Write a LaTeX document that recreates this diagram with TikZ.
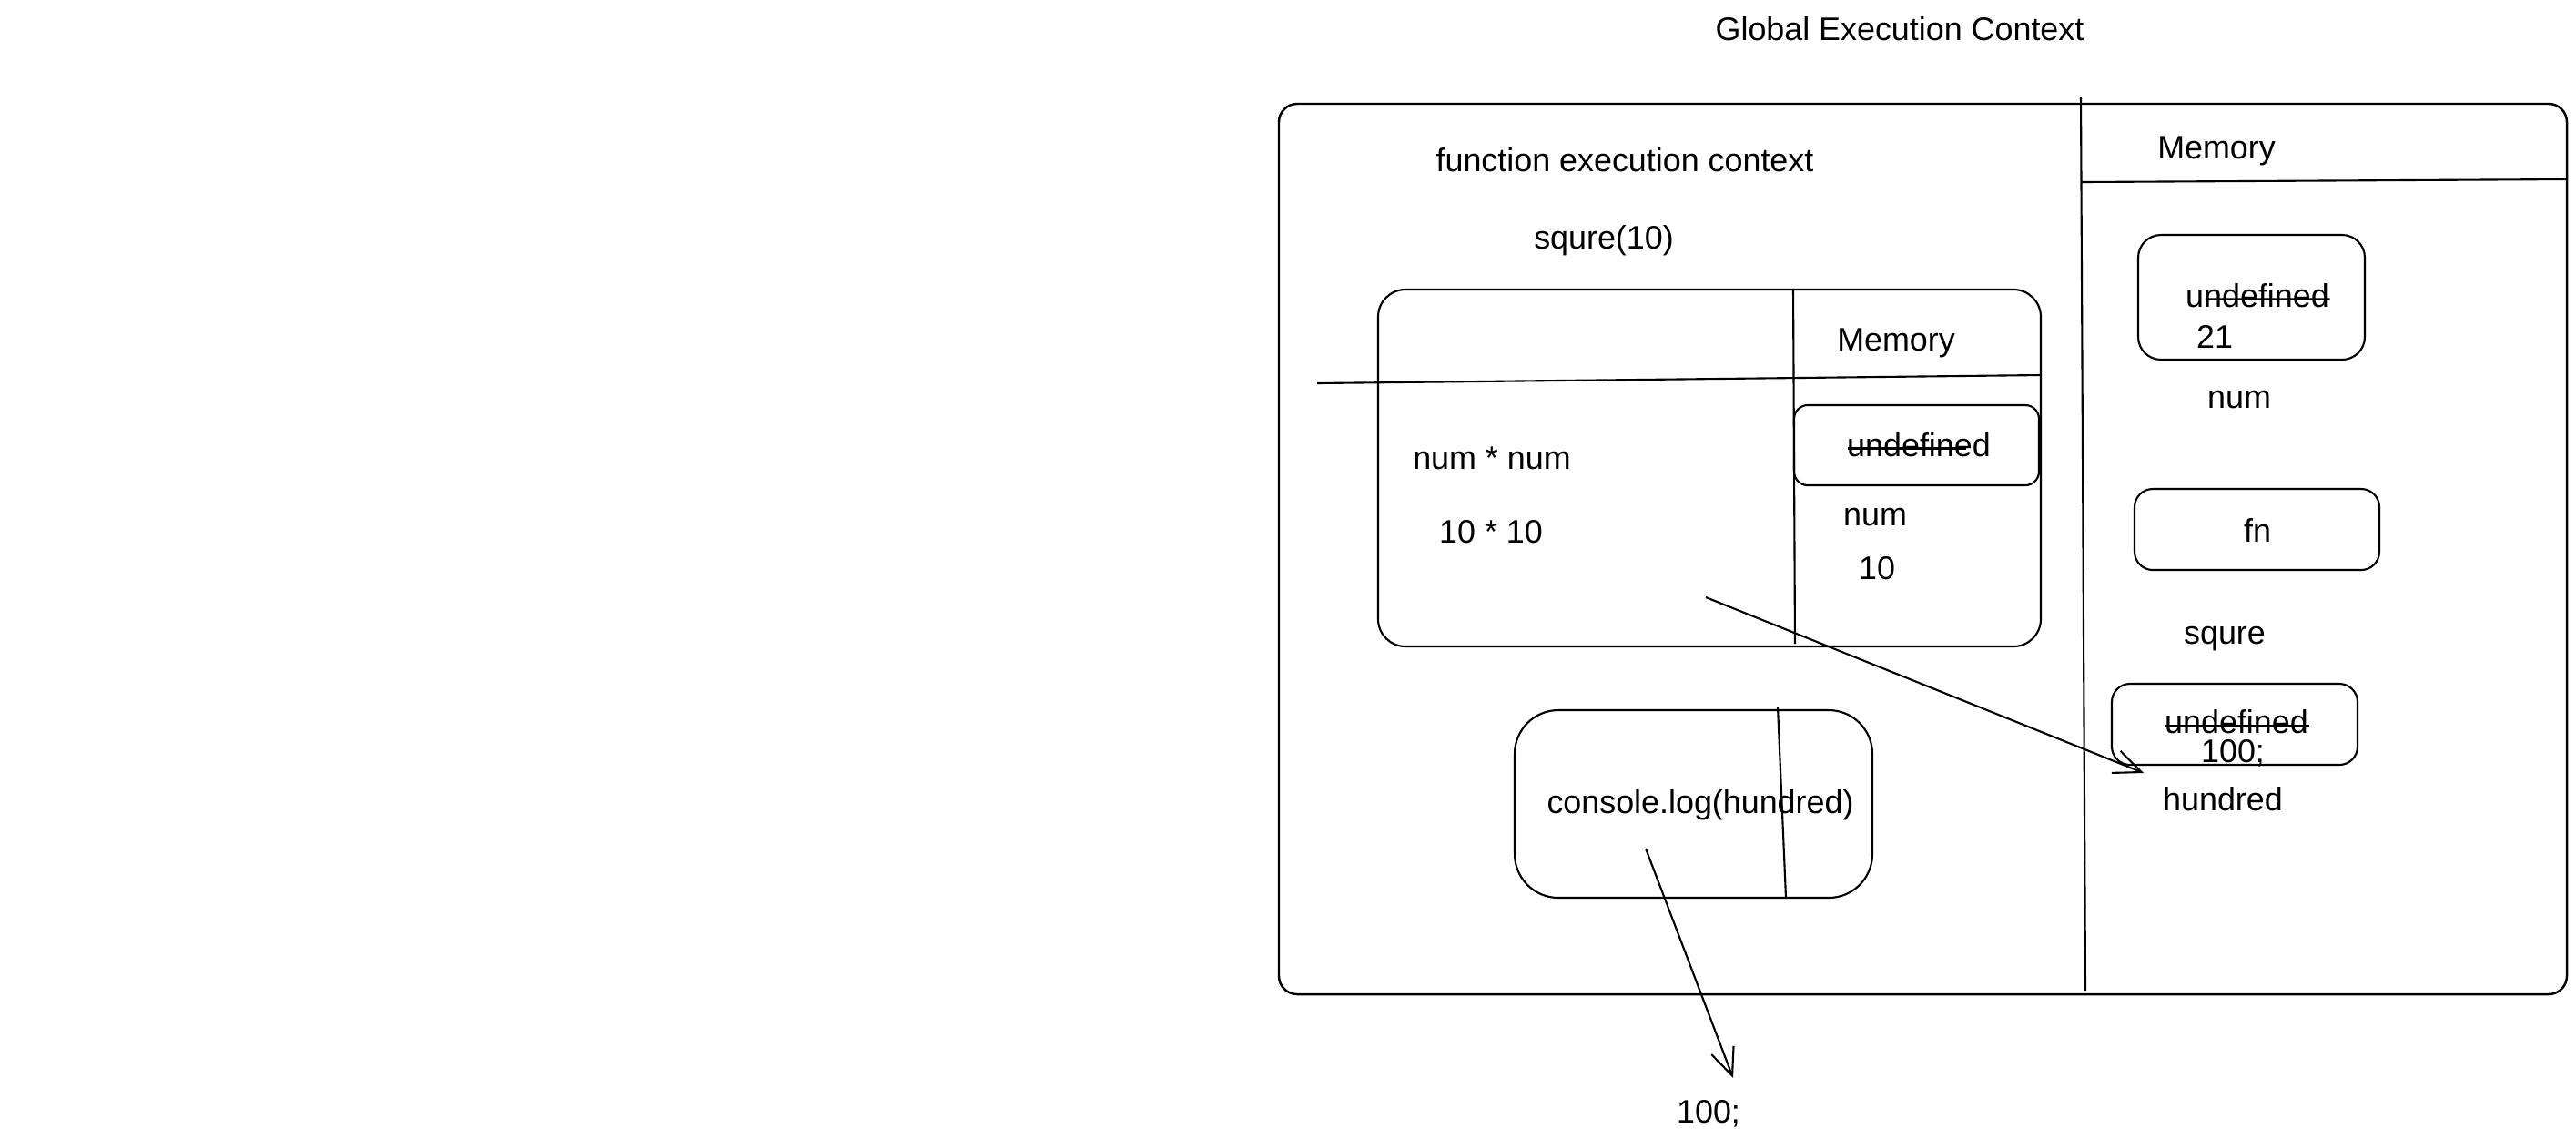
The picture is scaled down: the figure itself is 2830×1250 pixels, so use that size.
\documentclass[tikz,border=0pt]{standalone}
\usepackage{fontspec}
\setmainfont{Liberation Sans}
\usetikzlibrary{arrows.meta,fit,calc}
\begin{document}
\begin{tikzpicture}[x=0.01cm,y=-0.01cm,
  every node/.style={font=\fontsize{10.2}{12}\selectfont},
  lbl/.style={inner sep=0pt},
  box/.style={draw,line width=0.6pt,inner sep=0pt,rounded corners=#1},
  box/.default=2mm,
  ln/.style={line width=0.6pt},
  strike/.style={line width=0.6pt},
  arr/.style={line width=0.6pt,-{Straight Barb[length=3mm,width=2.6mm]}}]
\useasboundingbox (0,0) rectangle (2830,1250);
% outer global execution context frame
\node[box=2mm,line width=0.7pt,fit={(1405,114)(2820,1092)}] (gec) {};
\coordinate (gdivT) at (2286,106);
\coordinate (gdivB) at (2291,1088);
\draw[ln] (gdivT) -- (gdivB);
\coordinate (gmemL) at (2287,200);
\coordinate (gmemR) at (2820,197);
\draw[ln] (gmemL) -- (gmemR);
% function execution context box
\node[box=3mm,fit={(1514,318)(2242,710)}] (fbox) {};
\coordinate (fdivT) at (1970,318);
\coordinate (fdivB) at (1972,707);
\draw[ln] (fdivT) -- (fdivB);
\coordinate (fhL) at (1447,421);
\coordinate (fhR) at (2242,412);
\draw[ln] (fhL) -- (fhR);
\node[box=1.5mm,fit={(1971,445)(2240,533)}] (ubox1) {};
% console box
\node[box=4.8mm,fit={(1664,780)(2057,986)}] (cbox) {};
\coordinate (cdivT) at (1953,776);
\coordinate (cdivB) at (1962,986);
\draw[ln] (cdivT) -- (cdivB);
% global memory boxes
\node[box=2.5mm,fit={(2349,258)(2598,395)}] (gbox1) {};
\node[box=2mm,fit={(2345,537)(2614,626)}] (gbox2) {};
\node[box=2mm,fit={(2320,751)(2590,840)}] (gbox3) {};
% texts
\node[lbl] (title) at (2087,32) {Global Execution Context};
\node[lbl] (fec) at (1785,176) {function execution context};
\node[lbl] (sq10) at (1762,264) {squre(10)};
\node[lbl] (mem1) at (2083,377) {Memory};
\node[lbl] (memG) at (2435,166) {Memory};
\node[lbl] (nn) at (1639,503) {num * num};
\node[lbl] (tt) at (1638,584) {10 * 10};
\node[lbl] (u1) at (2108,489) {undefined};
\node[lbl] (num1) at (2060,568) {num};
\node[lbl] (ten) at (2062,624) {10};
\node[lbl] (u2) at (2480,325) {undefined};
\node[lbl] (v21) at (2433,370) {21};
\node[lbl] (num2) at (2460,439) {num};
\node[lbl] (fn) at (2480,583) {fn};
\node[lbl] (sq) at (2444,702) {squre};
\node[lbl] (u3) at (2457,793) {undefined};
\node[lbl] (h100) at (2453,827) {100;};
\node[lbl] (hun) at (2442,878) {hundred};
\node[lbl] (cl) at (1868,884) {console.log(hundred)};
\node[lbl] (out) at (1877,1223) {100;};
% strike-throughs
\draw[strike] ($(u1.mid west)!0.01!(u1.mid east)$) -- ($(u1.mid west)!0.83!(u1.mid east)$);
\draw[strike] ($(u2.mid west)!0.14!(u2.mid east)$) -- (u2.mid east);
\draw[strike] (u3.mid west) -- (u3.mid east);
% arrows
\coordinate (a1s) at (1874,656);
\coordinate (a1e) at (2355,849);
\draw[arr] (a1s) -- (a1e);
\coordinate (a2s) at (1808,932);
\coordinate (a2e) at (1904,1184);
\draw[arr] (a2s) -- (a2e);
\end{tikzpicture}
\end{document}
